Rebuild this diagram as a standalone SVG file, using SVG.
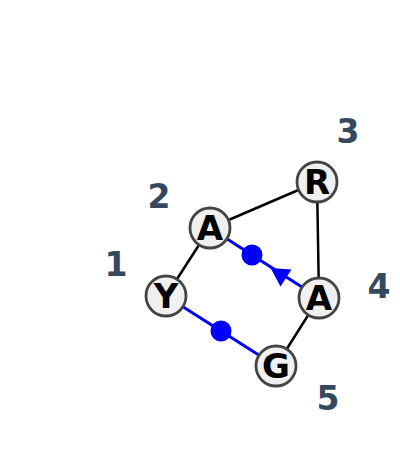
<svg xmlns="http://www.w3.org/2000/svg" width="400" height="463" viewBox="0 0 400 463">
<style>
.edge{stroke:#000;stroke-width:2.5;fill:none}
.blue{stroke:#0000ff;stroke-width:3;fill:none}
.dot{fill:#0000ff}
.node circle{fill:#f0f0f0;stroke:#444;stroke-width:2.8}
.node text{font-family:"DejaVu Sans",sans-serif;font-weight:bold;font-size:34px;fill:#000;text-anchor:middle}
.lbl{font-family:"DejaVu Sans",sans-serif;font-weight:bold;font-size:33px;fill:#34495e;text-anchor:middle}
</style>
<rect width="400" height="463" fill="#fff"/>
<g id="connectors">
<line class="edge" x1="166" y1="296" x2="210" y2="228"/>
<line class="edge" x1="210" y1="228" x2="317" y2="182"/>
<line class="edge" x1="317" y1="182" x2="319" y2="298"/>
<line class="edge" x1="319" y1="298" x2="276" y2="366"/>
<line class="blue" x1="166" y1="296" x2="276" y2="366"/>
<circle class="dot" cx="221" cy="331" r="10.5"/>
<line class="blue" x1="319" y1="298" x2="210" y2="228"/>
<circle class="dot" cx="252" cy="255" r="10.5"/>
<polygon class="dot" points="270.5,268 291.5,269.5 280.5,286.5"/>
</g>
<g id="node-Y" class="node"><circle cx="166" cy="296" r="20"/><text x="166" y="308">Y</text></g>
<g id="node-A2" class="node"><circle cx="210" cy="228" r="20"/><text x="210" y="240">A</text></g>
<g id="node-R" class="node"><circle cx="317" cy="182" r="20"/><text x="317" y="194">R</text></g>
<g id="node-A4" class="node"><circle cx="319" cy="298" r="20"/><text x="319" y="310">A</text></g>
<g id="node-G" class="node"><circle cx="276" cy="366" r="20"/><text x="276" y="378">G</text></g>
<g id="labels">
<text class="lbl" x="116" y="276">1</text>
<text class="lbl" x="159" y="208">2</text>
<text class="lbl" x="348" y="143">3</text>
<text class="lbl" x="379" y="298">4</text>
<text class="lbl" x="328" y="410">5</text>
</g>
</svg>
